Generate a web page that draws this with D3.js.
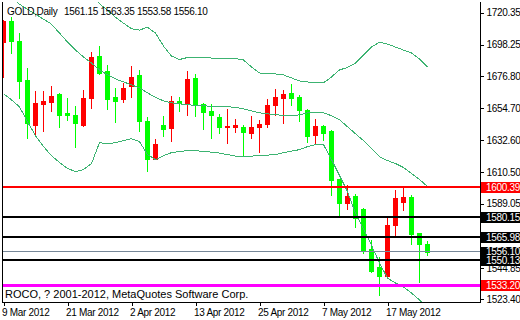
<!DOCTYPE html>
<html>

<head>
	<meta charset="utf-8">
	<title>GOLD, Daily</title>
	<script src="https://cdn.jsdelivr.net/npm/d3@7"></script>
	<style>
		body { margin: 0; background: #ffffff; }
		svg { display: block; font-family: 'Liberation Sans', Arial, sans-serif; }
	</style>
</head>

<body>
	<div id="chart"></div>
	<script>
		// trading days shown on the chart
		const dates = [
			'2012-03-09', '2012-03-12', '2012-03-13', '2012-03-14', '2012-03-15', '2012-03-16',
			'2012-03-19', '2012-03-20', '2012-03-21', '2012-03-22', '2012-03-23', '2012-03-26',
			'2012-03-27', '2012-03-28', '2012-03-29', '2012-03-30', '2012-04-02', '2012-04-03',
			'2012-04-04', '2012-04-05', '2012-04-09', '2012-04-10', '2012-04-11', '2012-04-12',
			'2012-04-13', '2012-04-16', '2012-04-17', '2012-04-18', '2012-04-19', '2012-04-20',
			'2012-04-23', '2012-04-24', '2012-04-25', '2012-04-26', '2012-04-27', '2012-04-30',
			'2012-05-01', '2012-05-02', '2012-05-03', '2012-05-04', '2012-05-07', '2012-05-08',
			'2012-05-09', '2012-05-10', '2012-05-11', '2012-05-14', '2012-05-15', '2012-05-16',
			'2012-05-17', '2012-05-18', '2012-05-21', '2012-05-22', '2012-05-23', '2012-05-24'
		];

		const open = [
			1700.24, 1714.60, 1700.72, 1674.05, 1642.79, 1657.84, 1658.80, 1664.47, 1651.00, 1650.11,
			1643.07, 1661.94, 1690.46, 1680.20, 1662.42, 1661.05, 1670.15, 1677.67, 1646.01, 1620.02,
			1643.27, 1640.74, 1659.69, 1658.52, 1675.42, 1657.43, 1652.37, 1648.74, 1641.43, 1641.43,
			1641.70, 1637.59, 1641.43, 1643.75, 1656.74, 1661.94, 1665.16, 1662.42, 1653.53, 1635.95,
			1642.59, 1638.69, 1605.66, 1589.45, 1594.03, 1585.14, 1557.78, 1545.48, 1539.11, 1574.40,
			1589.93, 1593.55, 1568.93, 1561.15
		];
		const high = [
			1715.30, 1716.93, 1705.99, 1682.05, 1666.53, 1666.53, 1669.94, 1665.16, 1661.94, 1656.27,
			1667.21, 1693.40, 1697.30, 1684.31, 1668.78, 1671.79, 1683.83, 1680.89, 1648.26, 1633.70,
			1648.95, 1663.11, 1662.42, 1680.20, 1678.36, 1658.11, 1657.63, 1650.79, 1654.21, 1647.38,
			1643.27, 1649.43, 1646.69, 1660.85, 1667.69, 1667.21, 1671.31, 1663.79, 1654.21, 1647.38,
			1643.00, 1639.37, 1606.00, 1601.76, 1595.40, 1586.30, 1563.94, 1552.32, 1580.36, 1598.48,
			1599.71, 1594.72, 1569.20, 1563.35
		];
		const low = [
			1676.30, 1692.31, 1661.94, 1634.18, 1636.43, 1639.17, 1652.37, 1641.43, 1646.21, 1627.75,
			1642.11, 1654.69, 1678.20, 1654.21, 1644.84, 1659.21, 1662.63, 1638.69, 1611.81, 1619.60,
			1635.27, 1631.85, 1652.37, 1650.11, 1648.95, 1640.54, 1634.18, 1637.59, 1630.48, 1638.01,
			1622.76, 1633.90, 1624.33, 1641.43, 1650.11, 1644.43, 1656.95, 1645.53, 1631.17, 1630.07,
			1632.54, 1594.92, 1581.25, 1585.62, 1573.31, 1555.50, 1542.00, 1526.53, 1538.80, 1567.56,
			1584.66, 1561.68, 1535.42, 1553.58
		];
		const close = [
			1714.60, 1700.93, 1673.57, 1644.43, 1658.32, 1659.69, 1663.11, 1650.11, 1649.63, 1644.16,
			1661.74, 1689.57, 1678.63, 1661.05, 1659.89, 1668.78, 1675.89, 1645.80, 1619.81, 1630.28,
			1640.06, 1659.69, 1658.52, 1674.73, 1657.63, 1651.68, 1649.63, 1641.43, 1642.59, 1643.27,
			1638.01, 1641.70, 1643.96, 1656.95, 1662.42, 1664.47, 1661.94, 1653.05, 1635.27, 1642.59,
			1637.80, 1605.18, 1589.45, 1594.03, 1579.19, 1556.21, 1542.62, 1539.53, 1574.40, 1592.66,
			1593.34, 1568.25, 1561.21, 1556.10
		];

		// Bollinger bands
		const bbUpper = [
			1792.36, 1786.89, 1781.42, 1775.95, 1770.48, 1765.01, 1759.54, 1754.06, 1748.59, 1743.12,
			1737.65, 1732.18, 1726.37, 1721.92, 1717.13, 1713.03, 1709.27, 1708.24, 1710.29, 1706.19,
			1697.30, 1690.46, 1688.07, 1689.44, 1689.78, 1689.44, 1689.09, 1689.09, 1689.09, 1688.75,
			1687.73, 1682.94, 1678.84, 1678.15, 1678.15, 1677.47, 1675.42, 1673.36, 1672.68, 1672.00,
			1672.00, 1676.10, 1680.89, 1682.60, 1685.67, 1691.15, 1696.62, 1700.04, 1698.67, 1696.62,
			1694.56, 1692.51, 1688.41, 1682.94
		];
		const bbMiddle = [
			1734.23, 1730.81, 1726.02, 1722.60, 1719.19, 1715.77, 1712.35, 1706.19, 1700.04, 1694.56,
			1689.78, 1685.67, 1680.89, 1677.47, 1674.73, 1672.68, 1670.63, 1668.58, 1665.16, 1662.08,
			1659.69, 1658.32, 1657.63, 1656.95, 1656.61, 1656.27, 1655.92, 1655.58, 1655.58, 1655.24,
			1654.21, 1652.85, 1651.48, 1650.80, 1650.11, 1649.77, 1649.43, 1650.11, 1651.48, 1651.48,
			1651.48, 1649.43, 1646.69, 1641.90, 1637.12, 1632.33, 1626.86, 1621.39, 1618.65, 1616.60,
			1613.86, 1609.76, 1605.66, 1600.87
		];
		const bbLower = [
			1664.47, 1660.37, 1655.58, 1645.32, 1635.75, 1628.23, 1622.07, 1617.28, 1613.18, 1611.13,
			1612.50, 1616.60, 1630.96, 1630.28, 1630.96, 1632.33, 1633.70, 1631.65, 1622.76, 1619.34,
			1622.07, 1624.12, 1624.81, 1625.49, 1625.49, 1624.81, 1624.47, 1623.78, 1622.76, 1621.73,
			1621.39, 1621.73, 1622.07, 1622.41, 1622.76, 1624.12, 1625.15, 1626.17, 1628.23, 1629.59,
			1629.59, 1619.34, 1608.39, 1597.45, 1582.41, 1571.46, 1560.52, 1548.21, 1537.95, 1534.53,
			1531.80, 1527.69, 1522.91, 1516.75
		];

		const priceTicks = [1720.35, 1698.25, 1676.80, 1654.70, 1632.60, 1610.50, 1589.05, 1566.95, 1544.85, 1523.40];
		const timeTicks = ['2012-03-09', '2012-03-21', '2012-04-02', '2012-04-13', '2012-04-25', '2012-05-07', '2012-05-17'];

		// horizontal levels drawn on the chart, and the current bid
		const levels = [1600.39, 1580.15, 1565.98, 1550.13, 1533.20];
		const bid = 1556.10;

		const symbol = 'GOLD,Daily';
		const copyright = 'ROCO, ? 2001-2012, MetaQuotes Software Corp.';

		function buildChart() {
			const width = 520, height = 320;
			const plot = { left: 2, right: 480, top: 2, bottom: 302 };

			const bull = '#ff0000', bear = '#00ff00', band = '#3cb371';

			// line colour and badge colour for each level
			const levelStyle = {
				1600.39: { line: '#ff0000', badge: '#ff0000', width: 2 },
				1580.15: { line: '#000000', badge: '#000000', width: 2 },
				1565.98: { line: '#000000', badge: '#000000', width: 2 },
				1550.13: { line: '#000000', badge: '#000000', width: 2 },
				1533.20: { line: '#ff00ff', badge: '#ff0000', width: 3 }
			};

			const xScale = d3.scalePoint()
				.domain(dates)
				.range([3.5, 427.5]);

			const yScale = d3.scaleLinear()
				.domain([1533.20, 1720.35])
				.range([285, 12.5]);

			const svg = d3.select('#chart').append('svg')
				.attr('width', width)
				.attr('height', height);

			svg.append('rect')
				.attr('width', width)
				.attr('height', height)
				.attr('fill', '#ffffff');

			svg.append('clipPath')
				.attr('id', 'plot-clip')
				.append('rect')
				.attr('x', plot.left + 1)
				.attr('y', plot.top)
				.attr('width', plot.right - plot.left - 1)
				.attr('height', plot.bottom - plot.top);

			const area = svg.append('g')
				.attr('clip-path', 'url(#plot-clip)')
				.attr('shape-rendering', 'crispEdges');

			// candles
			const bars = dates.map((d, i) => ({
				date: d, o: open[i], h: high[i], l: low[i], c: close[i]
			}));

			const candles = area.append('g');

			candles.selectAll('rect.wick')
				.data(bars)
				.enter().append('rect')
				.attr('class', 'wick')
				.attr('x', d => xScale(d.date) - 0.5)
				.attr('y', d => Math.round(yScale(d.h)))
				.attr('width', 1)
				.attr('height', d => Math.max(1, Math.round(yScale(d.l)) - Math.round(yScale(d.h)) + 1))
				.attr('fill', d => d.c >= d.o ? bull : bear);

			candles.selectAll('rect.body')
				.data(bars)
				.enter().append('rect')
				.attr('class', 'body')
				.attr('x', d => xScale(d.date) - 2.5)
				.attr('y', d => Math.round(yScale(Math.max(d.o, d.c))))
				.attr('width', 5)
				.attr('height', d => Math.max(1, Math.round(yScale(Math.min(d.o, d.c))) - Math.round(yScale(Math.max(d.o, d.c))) + 1))
				.attr('fill', d => d.c >= d.o ? bull : bear);

			// bollinger bands
			const bandLine = d3.line()
				.x((d, i) => xScale(dates[i]))
				.y(d => yScale(d));

			[bbUpper, bbMiddle, bbLower].forEach(series => {
				area.append('path')
					.datum(series)
					.attr('d', bandLine)
					.attr('fill', 'none')
					.attr('stroke', band)
					.attr('stroke-width', 1);
			});

			// bid line
			area.append('line')
				.attr('x1', plot.left)
				.attr('x2', plot.right)
				.attr('y1', yScale(bid))
				.attr('y2', yScale(bid))
				.attr('stroke', '#778899')
				.attr('stroke-width', 1);

			// horizontal levels
			area.selectAll('line.level')
				.data(levels)
				.enter().append('line')
				.attr('class', 'level')
				.attr('x1', plot.left)
				.attr('x2', plot.right)
				.attr('y1', d => yScale(d))
				.attr('y2', d => yScale(d))
				.attr('stroke', d => levelStyle[d].line)
				.attr('stroke-width', d => levelStyle[d].width);

			// frame
			const frame = svg.append('g')
				.attr('stroke', '#000000')
				.attr('shape-rendering', 'crispEdges');
			frame.append('line').attr('x1', plot.left + 0.5).attr('x2', plot.left + 0.5).attr('y1', plot.top).attr('y2', plot.bottom + 1);
			frame.append('line').attr('x1', plot.right + 0.5).attr('x2', plot.right + 0.5).attr('y1', plot.top).attr('y2', plot.bottom + 1);
			frame.append('line').attr('x1', plot.left).attr('x2', plot.right + 1).attr('y1', plot.bottom + 0.5).attr('y2', plot.bottom + 0.5);

			// price axis
			const yAxis = svg.append('g')
				.attr('transform', 'translate(' + (plot.right + 0.5) + ',0)')
				.call(d3.axisRight(yScale)
					.tickValues(priceTicks)
					.tickSize(3)
					.tickPadding(3)
					.tickFormat(d3.format('.2f')));
			yAxis.select('.domain').remove();
			yAxis.selectAll('line').attr('stroke', '#000').attr('shape-rendering', 'crispEdges');
			yAxis.selectAll('text')
				.attr('fill', '#000')
				.style('font-size', '10px')
				.style('letter-spacing', '-0.3px')
				.style('font-family', "'Liberation Sans', Arial, sans-serif");

			// time axis
			const parse = d3.timeParse('%Y-%m-%d');
			const fmt = d3.timeFormat('%-d %b %Y');
			const xAxis = svg.append('g')
				.attr('transform', 'translate(0,' + (plot.bottom + 0.5) + ')')
				.call(d3.axisBottom(xScale)
					.tickValues(timeTicks)
					.tickSize(3)
					.tickPadding(3)
					.tickFormat(d => fmt(parse(d))));
			xAxis.select('.domain').remove();
			xAxis.selectAll('line').attr('stroke', '#000').attr('shape-rendering', 'crispEdges');
			xAxis.selectAll('text')
				.attr('text-anchor', 'start')
				.attr('x', -2)
				.attr('fill', '#000')
				.style('font-size', '10px')
				.style('letter-spacing', '-0.3px')
				.style('font-family', "'Liberation Sans', Arial, sans-serif");

			// price badges on the axis (bid and 1550.13 sit right against each other)
			const badges = svg.append('g');
			const badgeData = [levels[0], levels[1], levels[2], bid, levels[3], levels[4]];
			badgeData.forEach(v => {
				const colour = v === bid ? '#000000' : levelStyle[v].badge;
				const cy = Math.round(yScale(v));
				badges.append('rect')
					.attr('x', plot.right + 1)
					.attr('y', cy - 5)
					.attr('width', width - plot.right - 1)
					.attr('height', 11)
					.attr('fill', colour)
					.attr('shape-rendering', 'crispEdges');
				badges.append('text')
					.attr('x', plot.right + 6)
					.attr('y', v === bid ? cy + 3 : cy + 4)
					.attr('fill', '#ffffff')
					.style('font-size', '10px')
					.style('letter-spacing', '-0.3px')
					.text(d3.format('.2f')(v));
			});

			// title and copyright
			const last = dates.length - 1;
			const title = svg.append('text')
				.attr('y', 15)
				.attr('fill', '#000')
				.style('font-size', '10px')
				.style('letter-spacing', '-0.3px');
			title.append('tspan').attr('x', 7).text(symbol);
			title.append('tspan').attr('x', 64)
				.text([open[last], high[last], low[last], close[last]].map(d3.format('.2f')).join(' '));

			svg.append('text')
				.attr('x', 5)
				.attr('y', 298)
				.attr('fill', '#000')
				.style('font-size', '11px')
				.text(copyright);
		}

		buildChart();
	</script>
</body>

</html>
